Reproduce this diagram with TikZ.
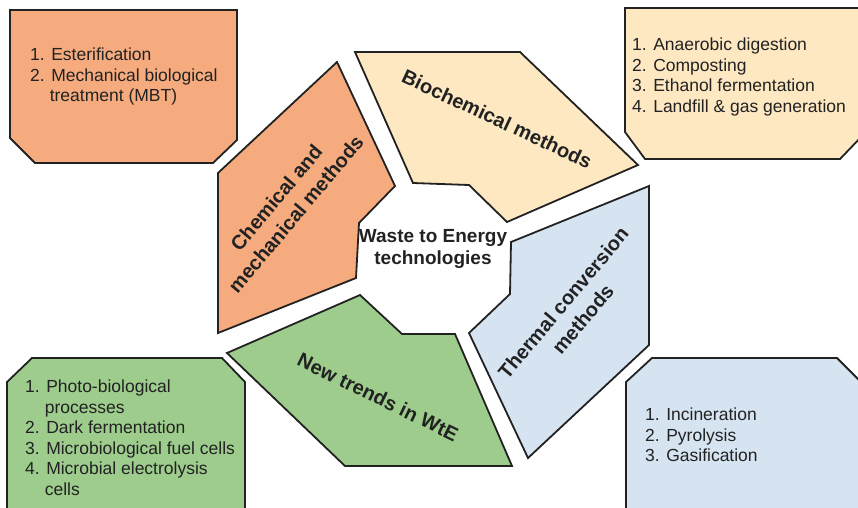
\documentclass[tikz,border=0pt]{standalone}
\usepackage{fontspec}
\setmainfont{Liberation Sans}
\usepackage{xcolor}
\usepackage{tikz}
\usetikzlibrary{positioning}
\definecolor{ink}{HTML}{222222}
\definecolor{chemOrange}{HTML}{F5AB7E}
\definecolor{bioCream}{HTML}{FDE8C2}
\definecolor{thermBlue}{HTML}{D6E4F2}
\definecolor{trendGreen}{HTML}{9DCC8C}

\begin{document}
\begin{tikzpicture}[x=1pt,y=-1pt,
  panel/.style={draw=ink, line width=1.8pt, line join=miter},
  itemtext/.style={anchor=north west, align=left, inner sep=0pt, text=ink, font=\fontsize{17.5}{20.5}\selectfont},
  methodtext/.style={align=center, inner sep=0pt, text=ink, font=\fontsize{20}{25.5}\selectfont\bfseries}]
  \useasboundingbox (0,0) rectangle (858,507);

  % corner boxes
  \draw[panel, fill=chemOrange] (10,10) -- (237,10) -- (237,140) -- (213,163) -- (35,163) -- (10,138) -- cycle;
  \draw[panel, fill=bioCream] (625,8) -- (864,8) -- (864,134) -- (840,159) -- (645,159) -- (625,132) -- cycle;
  \draw[panel, fill=trendGreen] (7,515) -- (7,382) -- (32,358) -- (222,358) -- (245,382) -- (245,515);
  \draw[panel, fill=thermBlue] (626,515) -- (626,382) -- (652,358) -- (837,358) -- (864,385) -- (864,515);

  % centre pieces
  \draw[panel, fill=chemOrange] (337,62) -- (395,186) -- (359,223) -- (356,278) -- (218,333) -- (218,173) -- cycle;
  \draw[panel, fill=bioCream] (355,52) -- (520,52) -- (638,165) -- (507,222) -- (469,185) -- (413,183) -- cycle;
  \draw[panel, fill=thermBlue] (511,242) -- (649,186) -- (649,345) -- (528,458) -- (469,333) -- (510,294) -- cycle;
  \draw[panel, fill=trendGreen] (227,353) -- (360,295) -- (402,334) -- (455,334) -- (512,466) -- (345,466) -- cycle;

  % labels
  \node[methodtext, font=\fontsize{19}{22}\selectfont\bfseries] (wtecentre) at (433,249) {Waste to Energy\\technologies};
  \node[methodtext, rotate=50] (chemlabel) at (286,206) {Chemical and\\mechanical methods};
  \node[methodtext, rotate=-25] (biolabel) at (497,119) {Biochemical methods};
  \node[methodtext, rotate=50] (thermlabel) at (573,311) {Thermal conversion\\methods};
  \node[methodtext, rotate=-26] (trendlabel) at (378,397) {New trends in WtE};

  % lists
  \node[itemtext] (esterlist) at (30,48) {1. Esterification\\2. Mechanical biological\\\hspace*{1.12em}treatment (MBT)};
  \node[itemtext] (biolist) at (632,38) {1. Anaerobic digestion\\2. Composting\\3. Ethanol fermentation\\4. Landfill \& gas generation};
  \node[itemtext] (trendlist) at (25,380) {1. Photo-biological\\\hspace*{1.12em}processes\\2. Dark fermentation\\3. Microbiological fuel cells\\4. Microbial electrolysis\\\hspace*{1.12em}cells};
  \node[itemtext] (thermlist) at (645,408) {1. Incineration\\2. Pyrolysis\\3. Gasification};
\end{tikzpicture}
\end{document}
